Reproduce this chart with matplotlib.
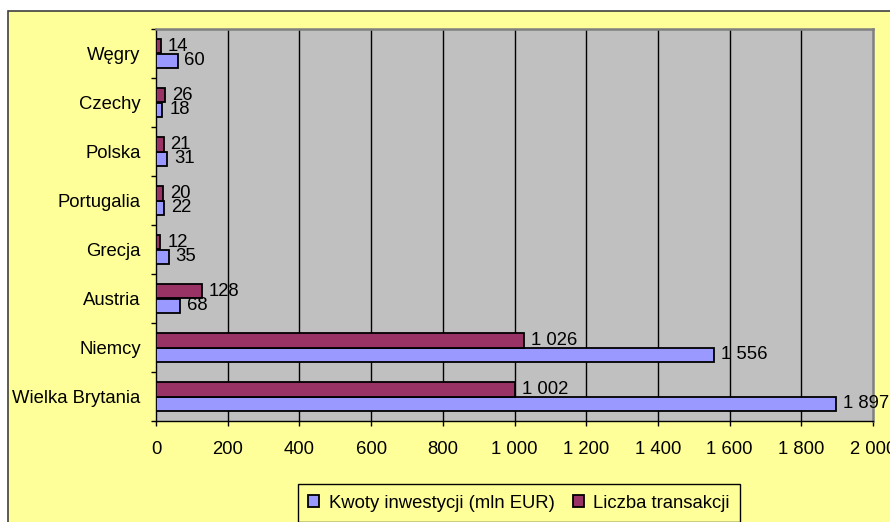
import numpy as np
import matplotlib
matplotlib.use("Agg")
import matplotlib.pyplot as plt
from matplotlib.patches import Rectangle
from matplotlib.ticker import FuncFormatter, FixedLocator

plt.rcParams['font.family'] = ['Liberation Sans', 'DejaVu Sans']

# data (top to bottom as in the chart)
countries = ['Węgry', 'Czechy', 'Polska', 'Portugalia', 'Grecja', 'Austria',
             'Niemcy', 'Wielka Brytania']
kwoty = [60, 18, 31, 22, 35, 68, 1556, 1897]
liczba = [14, 26, 21, 20, 12, 128, 1026, 1002]
xticks = [0, 200, 400, 600, 800, 1000, 1200, 1400, 1600, 1800, 2000]

blue = '#9999FF'
maroon = '#993366'
yellow = '#FFFF99'
gray = '#C0C0C0'
fs = 13.3


def pl_fmt(v, pos=None):
    # thousands separated with a space, like the Polish Excel output
    return f'{int(v):,}'.replace(',', ' ')


fig = plt.figure(figsize=(8.9, 5.22), dpi=100)
fig.patch.set_facecolor('white')

# outer chart area (yellow with dark border on top/left)
fig.patches.append(Rectangle((8 / 890, -0.1), 1.2, 1 - 11 / 522 + 0.1,
                             transform=fig.transFigure, facecolor=yellow,
                             edgecolor='#404040', linewidth=1.2, zorder=-5))

ax = fig.add_axes([156 / 890, 1 - 421 / 522, 717 / 890, 392 / 522])
ax.set_facecolor(gray)

y = np.arange(len(countries))
h = 0.286
ax.barh(y + h / 2, kwoty, height=h, color=blue, edgecolor='black',
        linewidth=1.3, zorder=3, label='Kwoty inwestycji (mln EUR)')
ax.barh(y - h / 2, liczba, height=h, color=maroon, edgecolor='black',
        linewidth=1.3, zorder=3, label='Liczba transakcji')

for yi, v in zip(y, kwoty):
    ax.annotate(pl_fmt(v), (v, yi + h / 2), xytext=(5, 0),
                textcoords='offset points', va='center', ha='left',
                fontsize=fs, annotation_clip=False, zorder=4)
for yi, v in zip(y, liczba):
    ax.annotate(pl_fmt(v), (v, yi - h / 2), xytext=(5, 0),
                textcoords='offset points', va='center', ha='left',
                fontsize=fs, annotation_clip=False, zorder=4)

ax.set_xlim(0, 2000)
ax.set_ylim(len(countries) - 0.5, -0.5)

ax.set_xticks(xticks)
ax.xaxis.set_major_formatter(FuncFormatter(pl_fmt))
ax.tick_params(axis='x', direction='out', length=3.6, width=1, pad=11,
               labelsize=fs, colors='black')
for xv in xticks[1:-1]:
    ax.axvline(xv, color='black', linewidth=1, zorder=1)

ax.set_yticks(y)
ax.set_yticklabels(countries)
ax.tick_params(axis='y', which='major', length=0, pad=11, labelsize=fs)
ax.yaxis.set_minor_locator(FixedLocator(np.arange(-0.5, len(countries), 1)))
ax.tick_params(axis='y', which='minor', direction='out', length=3.6, width=1)

for side in ['top', 'right']:
    ax.spines[side].set_color('#808080')
    ax.spines[side].set_linewidth(1.8)
for side in ['left', 'bottom']:
    ax.spines[side].set_color('black')
    ax.spines[side].set_linewidth(1)

leg = fig.legend(loc='center', bbox_to_anchor=(519 / 890, 1 - 503 / 522),
                 ncol=2, fontsize=fs, frameon=True, fancybox=False,
                 edgecolor='black', facecolor=yellow, framealpha=1,
                 handlelength=0.6, handleheight=0.6, handletextpad=0.5,
                 columnspacing=1.0, borderpad=0.55, borderaxespad=0)
leg.get_frame().set_linewidth(1)

fig.savefig('out.png', dpi=100, facecolor=fig.get_facecolor())
